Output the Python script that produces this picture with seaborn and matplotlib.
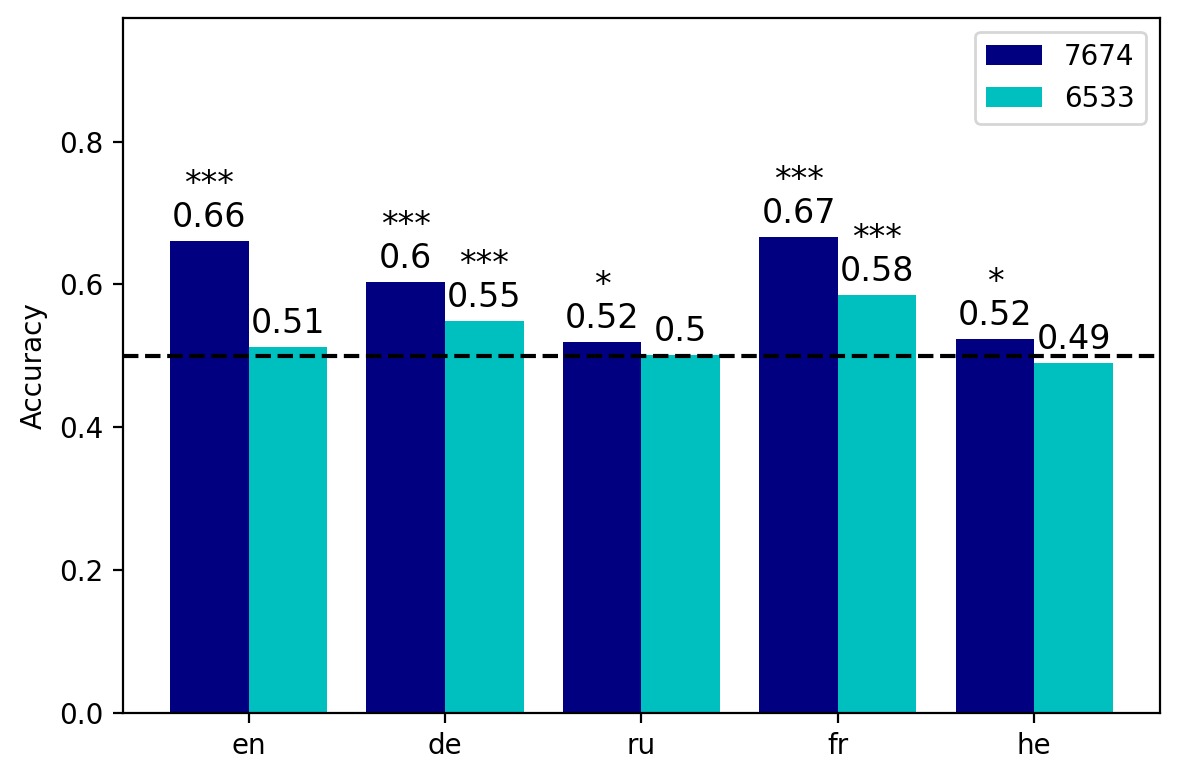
import pandas as pd
import numpy as np
import matplotlib
matplotlib.use("Agg")
import matplotlib.pyplot as plt
import seaborn as sns

# accuracy per language for the two models
languages = ["en", "de", "ru", "fr", "he"]
models = ["7674", "6533"]
acc_7674 = [0.661, 0.603, 0.519, 0.666, 0.523]
acc_6533 = [0.513, 0.549, 0.501, 0.585, 0.490]
stars_7674 = ["***", "***", "*", "***", "*"]
stars_6533 = ["", "***", "", "***", ""]
chance = 0.5

df = pd.DataFrame({
    "lang": languages * 2,
    "model": [models[0]] * len(languages) + [models[1]] * len(languages),
    "acc": acc_7674 + acc_6533,
})

fig = plt.figure(figsize=(5.9, 3.9), dpi=200)
ax = fig.add_axes([0.1042, 0.0859, 0.8788, 0.8911])

sns.barplot(data=df, x="lang", y="acc", hue="model", hue_order=models,
            palette=["navy", "c"], saturation=1, ax=ax, errorbar=None)

ax.axhline(chance, color="black", linestyle="--", linewidth=1.5)

for cont, vals, stars in zip(ax.containers, [acc_7674, acc_6533], [stars_7674, stars_6533]):
    ax.bar_label(cont, labels=[str(round(v, 2)) for v in vals], padding=2.5, fontsize=12)
    ax.bar_label(cont, labels=stars, padding=14.5, fontsize=12)

# same margins as plain matplotlib bars
ax.set_xlim(-0.64, 4.64)
ax.set_ylim(0, 0.973)
ax.set_yticks([0.0, 0.2, 0.4, 0.6, 0.8])
ax.set_xlabel("")
ax.set_ylabel("Accuracy", fontsize=10)
ax.tick_params(labelsize=10)
ax.legend(loc="upper right", fontsize=10)

fig.savefig("out.png", dpi=200)
